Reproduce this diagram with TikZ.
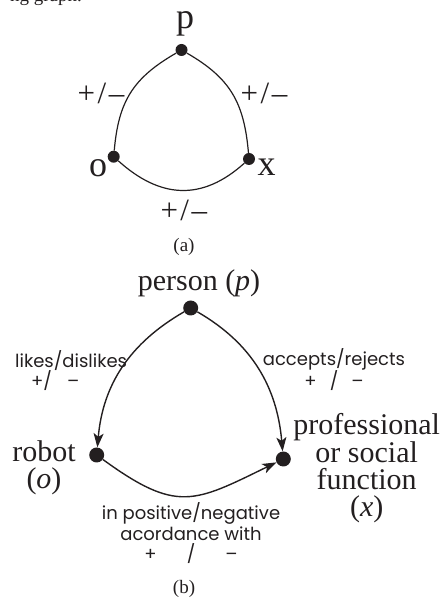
\documentclass[tikz,border=0pt]{standalone}
\usepackage{fontspec}
\setmainfont{Liberation Serif}
\newfontfamily\relfont{Poppins}
\usetikzlibrary{arrows.meta}
\definecolor{GraphInk}{HTML}{231F20}

\begin{document}
\begin{tikzpicture}[x=1pt,y=1pt,
    dotA/.style={circle,fill=GraphInk,inner sep=0pt,minimum size=12pt},
    dotB/.style={circle,fill=GraphInk,inner sep=0pt,minimum size=15pt},
    letter/.style={text=GraphInk,inner sep=0pt,font=\fontsize{36}{36}\selectfont},
    signs/.style={text=GraphInk,inner sep=0pt,font=\fontsize{31}{31}\selectfont},
    caption/.style={text=GraphInk,inner sep=0pt,font=\fontsize{19}{19}\selectfont},
    role/.style={text=GraphInk,inner sep=0pt,align=center,
      font=\fontsize{30}{27.3}\selectfont},
    rel/.style={text=GraphInk,inner sep=0pt,
      font=\relfont\fontsize{18}{20.5}\selectfont},
    tie/.style={GraphInk,line width=1.2pt},
    link/.style={GraphInk,line width=1.4pt,
      -{Stealth[length=14pt,width=10pt,inset=3.5pt]}}]

  \useasboundingbox (0,0) rectangle (444,597);

  \node[caption,anchor=base east] (pagetext) at (82,595.5) {ng graph.};

  % (a)
  \foreach \nm/\px/\py in {
    pa/181.5/547,
    oa/113.7/440.3,
    xa/249/438
  }{
    \node[dotA] (\nm) at (\px,\py) {};
  }
  \node[letter,anchor=base] (pname) at (185,568) {p};
  \node[letter,anchor=base] (oname) at (98,420) {o};
  \node[letter,anchor=base] (xname) at (266.7,421) {x};

  \draw[tie] (pa) to[out=210,in=85,looseness=1.1] (oa);
  \draw[tie] (pa) to[out=-30,in=95,looseness=1.1] (xa);
  \draw[tie] (oa) to[out=-42,in=222,looseness=1.15] (xa);

  \node[signs,anchor=base] (popm) at (101,493.7) {+\kern2.5pt/\kern2.5pt–};
  \node[signs,anchor=base] (pxpm) at (264,493.7) {+\kern2.5pt/\kern2.5pt–};
  \node[signs,anchor=base] (oxpm) at (183.8,376.3) {+\kern2.5pt/\kern2.5pt–};
  \node[caption,anchor=base] (capa) at (184,345) {(a)};

  % (b)
  \foreach \nm/\px/\py in {
    pb/190.7/289,
    ob/96.7/142,
    xb/283.3/138
  }{
    \node[dotB] (\nm) at (\px,\py) {};
  }
  \node[role,anchor=base] (person) at (199,306) {person (\textit{p})};
  \node[role,anchor=base] (robot) at (44,108) {robot\\(\textit{o})};
  \node[role,anchor=base] (function) at (366.7,80.3)
    {professional\\or social\\function\\(\textit{x})};

  \draw[link] (pb) to[out=210,in=85] (ob);
  \draw[link] (pb) to[out=-30,in=95] (xb);
  \draw[link] (ob) to[out=-36,in=206,looseness=1.35] (xb);

  \node[rel,anchor=base west,align=left] (likes) at (15,209)
    {likes/dislikes\\\hspace*{16pt}+/\hspace{15pt}–};
  \node[rel,anchor=base,align=center] (accepts) at (334,209)
    {accepts/rejects\\+\hspace{13pt}/\hspace{13pt}–};
  \node[rel,anchor=base,align=center] (accord) at (191,36)
    {in positive/negative\\acordance with\\+\hspace{30pt}/\hspace{30pt}–};
  \node[caption,anchor=base] (capb) at (184,3) {(b)};
\end{tikzpicture}
\end{document}
